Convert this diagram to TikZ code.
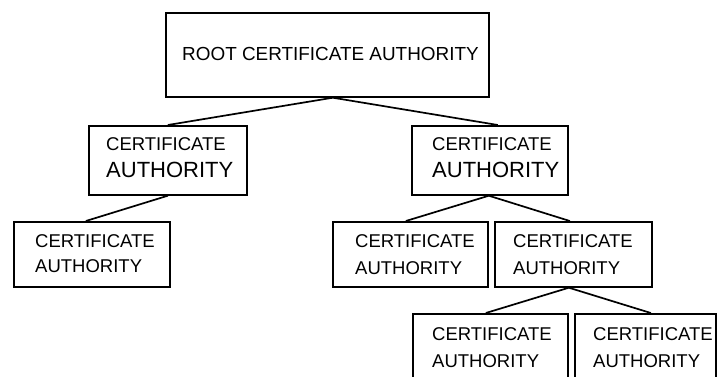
\documentclass[tikz,border=0pt]{standalone}
\usepackage{fontspec}
\setmainfont{Liberation Sans}
\begin{document}
\begin{tikzpicture}[x=1pt,y=-1pt,
  cabox/.style={draw,line width=1.7pt,rectangle,inner sep=0pt,anchor=north west},
  link/.style={line width=1.7pt},
  txt/.style={inner sep=0pt,anchor=base west,font=\fontsize{18.5}{20}\selectfont},
  bigtxt/.style={txt,font=\fontsize{22}{24}\selectfont},
  roottxt/.style={txt,font=\fontsize{18.9}{20}\selectfont}]
\useasboundingbox (0,0) rectangle (718,376);
\begin{scope}
\clip (0,0) rectangle (718,376);
% boxes
\node[cabox,minimum width=323pt,minimum height=84pt] (root) at (165,12) {};
\node[cabox,minimum width=158pt,minimum height=69pt] (ca1) at (88,125) {};
\node[cabox,minimum width=156pt,minimum height=69pt] (ca2) at (411,125) {};
\node[cabox,minimum width=156pt,minimum height=65pt] (ca3) at (13,221) {};
\node[cabox,minimum width=155pt,minimum height=65pt] (ca4) at (332,221) {};
\node[cabox,minimum width=157pt,minimum height=65pt] (ca5) at (494,221) {};
\node[cabox,minimum width=155pt,minimum height=90pt] (ca6) at (412,313) {};
\node[cabox,minimum width=141pt,minimum height=90pt] (ca7) at (574,313) {};
% labels
\node[roottxt] (root-l) at ([xshift=17pt,yshift=-48.8pt]root.north west) {ROOT CERTIFICATE AUTHORITY};
\node[txt] (ca1-a) at ([xshift=18pt,yshift=-25.3pt]ca1.north west) {CERTIFICATE};
\node[bigtxt] (ca1-b) at ([xshift=18pt,yshift=-52.9pt]ca1.north west) {AUTHORITY};
\node[txt] (ca2-a) at ([xshift=21pt,yshift=-25.3pt]ca2.north west) {CERTIFICATE};
\node[bigtxt] (ca2-b) at ([xshift=21pt,yshift=-52.9pt]ca2.north west) {AUTHORITY};
\node[txt] (ca3-a) at ([xshift=22pt,yshift=-26.8pt]ca3.north west) {CERTIFICATE};
\node[txt] (ca3-b) at ([xshift=22pt,yshift=-51.4pt]ca3.north west) {AUTHORITY};
\node[txt] (ca4-a) at ([xshift=23pt,yshift=-26.6pt]ca4.north west) {CERTIFICATE};
\node[txt] (ca4-b) at ([xshift=23pt,yshift=-53.1pt]ca4.north west) {AUTHORITY};
\node[txt] (ca5-a) at ([xshift=19pt,yshift=-26.6pt]ca5.north west) {CERTIFICATE};
\node[txt] (ca5-b) at ([xshift=19pt,yshift=-53.1pt]ca5.north west) {AUTHORITY};
\node[txt] (ca6-a) at ([xshift=20pt,yshift=-27.6pt]ca6.north west) {CERTIFICATE};
\node[txt] (ca6-b) at ([xshift=20pt,yshift=-54.3pt]ca6.north west) {AUTHORITY};
\node[txt] (ca7-a) at ([xshift=19pt,yshift=-27.6pt]ca7.north west) {CERTIFICATE};
\node[txt] (ca7-b) at ([xshift=19pt,yshift=-54.3pt]ca7.north west) {AUTHORITY};
% connectors
\draw[link] (ca1.north) -- ([xshift=5.5pt]root.south) -- ([xshift=8pt]ca2.north);
\draw[link] (ca1.south) -- ([xshift=-6pt]ca3.north);
\draw[link] ([xshift=-4.5pt]ca4.north) -- ([xshift=-1pt]ca2.south) -- ([xshift=-3.5pt]ca5.north);
\draw[link] ([xshift=-4.5pt]ca6.north) -- ([xshift=-4.5pt]ca5.south) -- ([xshift=5.5pt]ca7.north);
\end{scope}
\end{tikzpicture}
\end{document}
